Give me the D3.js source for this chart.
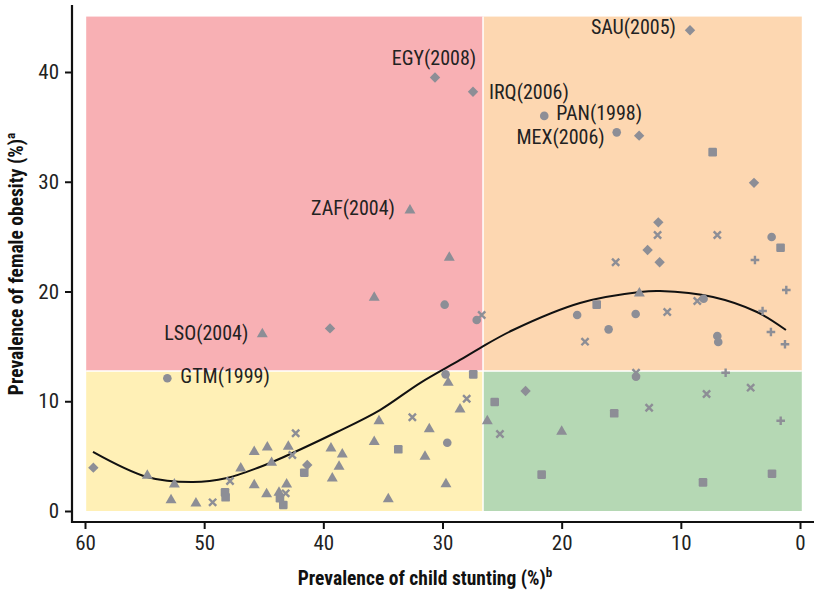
<!DOCTYPE html>
<html><head><meta charset="utf-8">
<script src="https://cdn.jsdelivr.net/npm/d3@7"></script>
<style>body{margin:0;background:#fff}svg{display:block}</style>
</head><body><svg id="c" width="814" height="593"></svg>
<script>
// ---------- data ----------
const xTicks = [60, 50, 40, 30, 20, 10, 0];
const yTicks = [0, 10, 20, 30, 40];
const stuntingCut = 26.6;   // vertical split
const obesityCut = 12.75;   // horizontal split
const xTitle = "Prevalence of child stunting (%)";
const yTitle = "Prevalence of female obesity (%)";

// [stunting %, obesity %]
const diamonds = [[9.23,43.8],[30.63,39.5],[27.44,38.2],[13.5,34.2],[3.86,29.9],[11.89,26.3],[12.79,23.78],[11.78,22.66],[39.44,16.64],[23.03,10.93],[59.3,3.95],[41.35,4.19]];
const circles = [[21.46,36.0],[15.38,34.5],[2.38,24.97],[18.7,17.86],[13.79,17.95],[8.09,19.34],[16.06,16.55],[6.94,15.95],[6.86,15.4],[27.13,17.4],[29.82,18.8],[13.76,12.24],[29.74,12.45],[29.6,6.22],[53.09,12.09]];
const triangles = [[32.73,27.4],[45.12,16.13],[29.43,23.1],[35.73,19.44],[13.48,19.83],[29.52,11.69],[28.53,9.27],[35.33,8.2],[31.11,7.47],[26.24,8.2],[20.0,7.23],[42.94,5.86],[35.73,6.31],[39.36,5.71],[38.41,5.17],[31.47,4.95],[38.68,4.04],[39.25,2.98],[43.08,2.43],[43.72,1.67],[34.55,1.09],[29.71,2.46],[45.8,5.4],[44.7,5.8],[44.34,4.4],[46.93,3.89],[45.8,2.37],[44.76,1.55],[54.77,3.22],[52.5,2.43],[52.78,1.0],[50.69,0.7]];
const squares = [[7.33,32.7],[1.63,23.99],[17.06,18.8],[27.42,12.45],[25.62,9.93],[15.59,8.9],[21.68,3.31],[8.14,2.61],[2.35,3.4],[33.71,5.62],[41.6,3.49],[43.64,1.16],[43.36,0.55],[48.25,1.7],[48.2,1.25]];
const crosses = [[11.95,25.15],[6.94,25.15],[15.47,22.66],[11.14,18.13],[8.62,19.13],[18.04,15.43],[26.71,17.86],[13.76,12.6],[4.14,11.24],[7.84,10.66],[12.66,9.41],[25.18,7.02],[27.97,10.23],[32.53,8.54],[42.32,7.08],[42.6,5.1],[43.16,1.61],[47.83,2.73],[49.29,0.79]];
const pluses = [[3.78,22.87],[1.15,20.14],[3.14,18.22],[2.44,16.31],[1.26,15.19],[6.24,12.6],[1.62,8.23]];

// fitted curve
const fitStunting = [59.33,54.8,50.94,48.08,45.32,44.48,38.85,35.25,31.89,28.53,26.85,24.08,18.46,13.43,11.75,7.3,3.61,1.18];
const fitObesity  = [5.38,3.1,2.64,3.01,4.01,4.37,7.2,9.2,11.66,13.76,14.85,16.49,18.95,19.95,20.04,19.5,18.13,16.49];

const labelTexts = ["SAU(2005)","EGY(2008)","IRQ(2006)","PAN(1998)","MEX(2006)","ZAF(2004)","LSO(2004)","GTM(1999)"];
const labelPoints = [diamonds[0],diamonds[1],diamonds[2],circles[0],circles[1],triangles[0],triangles[1],circles[14]];

// ---------- drawing ----------
const svg = d3.select("#c");
const x = d3.scaleLinear().domain([60, 0]).range([85, 800]);
const y = d3.scaleLinear().domain([0, 40]).range([511, 72]);
const FONT = "'Liberation Sans Narrow','Arial Narrow','Roboto Condensed',sans-serif";

const xL = 59.9, xR = -0.15, yT = 45.05, yB = 0;
const quads = [
  {x0: xL, x1: stuntingCut, y0: obesityCut, y1: yT, fill: "#f8b0b4"},
  {x0: stuntingCut, x1: xR, y0: obesityCut, y1: yT, fill: "#fdd7b1"},
  {x0: xL, x1: stuntingCut, y0: yB, y1: obesityCut, fill: "#fff0b6"},
  {x0: stuntingCut, x1: xR, y0: yB, y1: obesityCut, fill: "#b5d8b4"}
];
svg.append("g").selectAll("rect").data(quads).join("rect")
  .attr("x", d => x(d.x0)).attr("width", d => x(d.x1) - x(d.x0))
  .attr("y", d => y(d.y1)).attr("height", d => y(d.y0) - y(d.y1))
  .attr("fill", d => d.fill);
svg.append("line").attr("x1", x(stuntingCut)).attr("x2", x(stuntingCut))
  .attr("y1", y(yT)).attr("y2", y(yB)).attr("stroke", "#fff").attr("stroke-width", 1.5);
svg.append("line").attr("x1", x(xL)).attr("x2", x(xR))
  .attr("y1", y(obesityCut)).attr("y2", y(obesityCut)).attr("stroke", "#fff").attr("stroke-width", 1.5);

// axes
const gx = svg.append("g").attr("transform", "translate(0,522)")
  .call(d3.axisBottom(x).tickValues(xTicks).tickSize(7).tickPadding(6).tickFormat(d3.format("d")));
const gy = svg.append("g").attr("transform", "translate(72,0)")
  .call(d3.axisLeft(y).tickValues(yTicks).tickSize(7).tickPadding(6).tickFormat(d3.format("d")));
[gx, gy].forEach(g => {
  g.select(".domain").remove();
  g.selectAll(".tick line").attr("stroke", "#111").attr("stroke-width", 2);
  g.selectAll(".tick text").attr("font-family", FONT).attr("font-size", 21).attr("fill", "#222");
});
svg.append("line").attr("x1", 72).attr("x2", 72).attr("y1", 5).attr("y2", 523).attr("stroke", "#111").attr("stroke-width", 2.2);
svg.append("line").attr("x1", 71).attr("x2", 814).attr("y1", 522).attr("y2", 522).attr("stroke", "#111").attr("stroke-width", 2.2);

// fitted curve
const fit = fitStunting.map((s, i) => [s, fitObesity[i]]);
svg.append("path").datum(fit)
  .attr("d", d3.line().x(d => x(d[0])).y(d => y(d[1])).curve(d3.curveCatmullRom))
  .attr("fill", "none").attr("stroke", "#111").attr("stroke-width", 2);

// markers
const MC = "#8d8e96";
const mk = svg.append("g").attr("fill", MC);
mk.selectAll(".dia").data(diamonds).join("path")
  .attr("transform", d => `translate(${x(d[0])},${y(d[1])})`)
  .attr("d", "M0,-5.2L5.2,0L0,5.2L-5.2,0Z");
mk.selectAll(".cir").data(circles).join("circle")
  .attr("cx", d => x(d[0])).attr("cy", d => y(d[1])).attr("r", 4.3);
mk.selectAll(".tri").data(triangles).join("path")
  .attr("transform", d => `translate(${x(d[0])},${y(d[1])})`)
  .attr("d", d3.symbol(d3.symbolTriangle, 52));
mk.selectAll(".sq").data(squares).join("rect")
  .attr("x", d => x(d[0]) - 4.3).attr("y", d => y(d[1]) - 4.3)
  .attr("width", 8.6).attr("height", 8.6).attr("rx", 1.2);
mk.selectAll(".x").data(crosses).join("path")
  .attr("transform", d => `translate(${x(d[0])},${y(d[1])})`)
  .attr("d", "M-3.6,-3.6L3.6,3.6M-3.6,3.6L3.6,-3.6")
  .attr("stroke", MC).attr("stroke-width", 2.4).attr("fill", "none");
mk.selectAll(".p").data(pluses).join("path")
  .attr("transform", d => `translate(${x(d[0])},${y(d[1])})`)
  .attr("d", "M-4.3,0L4.3,0M0,-4.3L0,4.3")
  .attr("stroke", MC).attr("stroke-width", 2.4).attr("fill", "none");

// labels (anchor, dx, dy relative to the point)
const labelLayout = [["end",-14,-3],["middle",-1,-20],["start",16,0],["start",12,-3],["end",-12,4],["end",-15,-2],["end",-14,-1],["start",13,-3]];
svg.append("g").selectAll("text").data(labelTexts).join("text")
  .attr("x", (d, i) => x(labelPoints[i][0]) + labelLayout[i][1])
  .attr("y", (d, i) => y(labelPoints[i][1]) + labelLayout[i][2])
  .attr("dy", "0.36em")
  .attr("text-anchor", (d, i) => labelLayout[i][0])
  .attr("font-family", FONT).attr("font-size", 20).attr("fill", "#222")
  .text(d => d);

// axis titles
const xt = svg.append("text").attr("x", 425).attr("y", 585).attr("text-anchor", "middle")
  .attr("font-family", FONT).attr("font-size", 19.5).attr("font-weight", "bold").attr("fill", "#111");
xt.append("tspan").text(xTitle);
xt.append("tspan").attr("dy", -8).attr("font-size", 13).text("b");
const yt = svg.append("text").attr("transform", "translate(23,264) rotate(-90)").attr("text-anchor", "middle")
  .attr("font-family", FONT).attr("font-size", 19.5).attr("font-weight", "bold").attr("fill", "#111");
yt.append("tspan").text(yTitle);
yt.append("tspan").attr("dy", -8).attr("font-size", 13).text("a");
</script></body></html>
